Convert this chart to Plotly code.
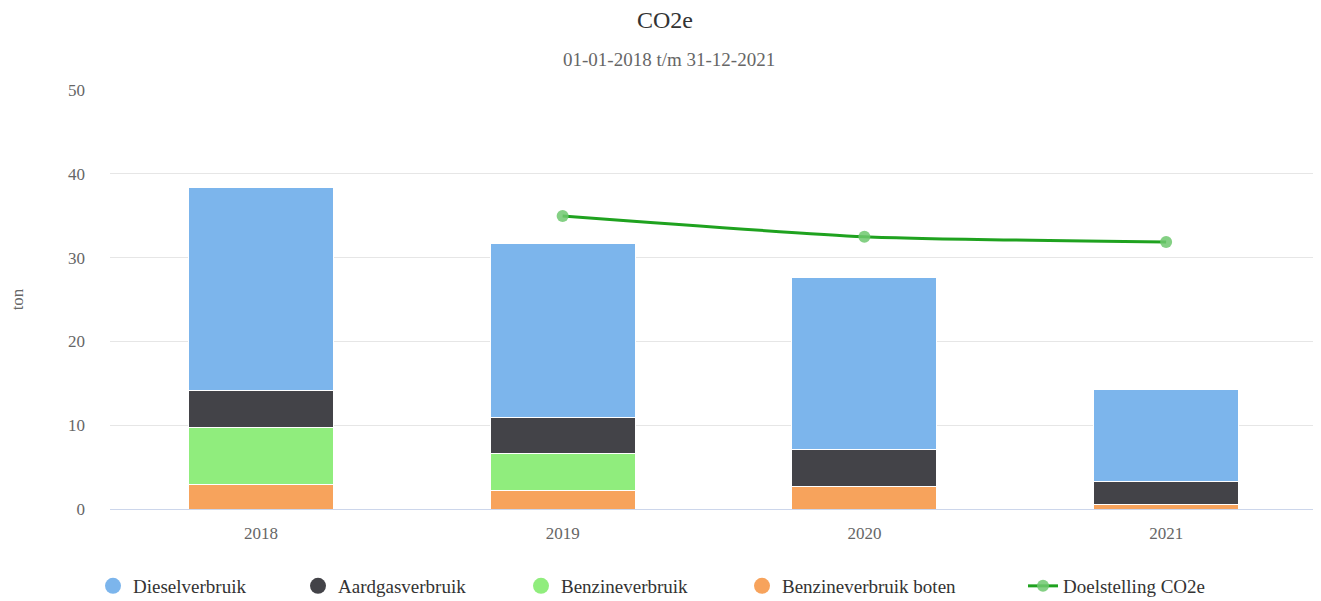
import plotly.graph_objects as go

years = ["2018", "2019", "2020", "2021"]
diesel = [24.24, 20.84, 20.59, 11.07]
aardgas = [4.35, 4.19, 4.44, 2.70]
benzine = [6.91, 4.43, 0.0, 0.0]
benzine_boten = [2.87, 2.24, 2.63, 0.53]
doel_years = ["2019", "2020", "2021"]
doelstelling = [34.97, 32.5, 31.86]

names = ["Dieselverbruik", "Aardgasverbruik", "Benzineverbruik", "Benzineverbruik boten"]
colors = ["#7cb5ec", "#434348", "#90ed7d", "#f7a35c"]
series = [diesel, aardgas, benzine, benzine_boten]
line_name = "Doelstelling CO2e"

FONT = "Liberation Serif"
W, H = 1313, 593  # page has 8px body margin

fig = go.Figure()
for name, col, vals in list(zip(names, colors, series))[::-1]:
    fig.add_trace(go.Bar(
        x=years, y=vals, name=name,
        marker=dict(color=col, line=dict(color="#ffffff", width=1)),
        showlegend=False, width=0.48,
    ))

line_col = "#1fa21f"
mark_col = "rgba(110,200,110,0.85)"
fig.add_trace(go.Scatter(
    x=doel_years, y=doelstelling, name=line_name, mode="lines+markers",
    line=dict(color=line_col, width=3, shape="spline", smoothing=0.6),
    marker=dict(color=mark_col, size=12),
    showlegend=False,
))

sym_centers = [113, 318, 541, 762, 1043]
legend_ids = ["legend", "legend2", "legend3", "legend4", "legend5"]
for i, (name, col) in enumerate(zip(names, colors)):
    fig.add_trace(go.Scatter(x=[None], y=[None], mode="markers", name=name,
                             legend=legend_ids[i],
                             marker=dict(color=col, size=16, symbol="circle")))
fig.add_trace(go.Scatter(x=[None], y=[None], mode="lines+markers", name=line_name,
                         legend=legend_ids[4],
                         line=dict(color=line_col, width=3),
                         marker=dict(color=mark_col, size=12)))

legend_layouts = {}
for lid, cx in zip(legend_ids, sym_centers):
    legend_layouts[lid] = dict(
        orientation="h", xref="container", yref="container",
        x=(cx - 20 - 8) / W, xanchor="left",
        y=1 - (586 - 8) / H, yanchor="middle",
        font=dict(size=19, color="#333333", family=FONT),
        bgcolor="rgba(0,0,0,0)",
    )

cx_title = (665 - 8) / W
fig.update_layout(
    barmode="stack",
    width=W, height=H,
    margin=dict(l=102, r=4, t=82, b=92),
    plot_bgcolor="#ffffff", paper_bgcolor="#ffffff",
    font=dict(family=FONT, color="#666666", size=17),
    title=dict(text="CO2e", x=cx_title, xanchor="center", xref="container",
               y=1 - (20 - 8) / H, yanchor="middle",
               font=dict(size=24, color="#333333", family=FONT)),
    annotations=[dict(text="01-01-2018 t/m 31-12-2021", xref="paper", yref="paper",
                      x=(669 - 110) / (1317 - 110), xanchor="center", y=1, yshift=90 - 59,
                      yanchor="middle", showarrow=False,
                      font=dict(size=19, color="#666666", family=FONT))],
    xaxis=dict(type="category", showline=True, linecolor="#ccd6eb", linewidth=1,
               ticks="", tickfont=dict(size=17, color="#666666", family=FONT),
               showgrid=False, ticklabelstandoff=9),
    yaxis=dict(range=[0, 50], dtick=10, gridcolor="#e6e6e6", zeroline=False,
               showline=False, ticks="", tickfont=dict(size=17, color="#666666", family=FONT),
               ticklabelstandoff=24,
               title=dict(text="ton", font=dict(size=17, color="#666666", family=FONT),
                          standoff=58)),
    bargap=0.52,
    **legend_layouts,
)
fig.update_xaxes(automargin=False)
fig.update_yaxes(automargin=False)
fig.write_html("out.html")
